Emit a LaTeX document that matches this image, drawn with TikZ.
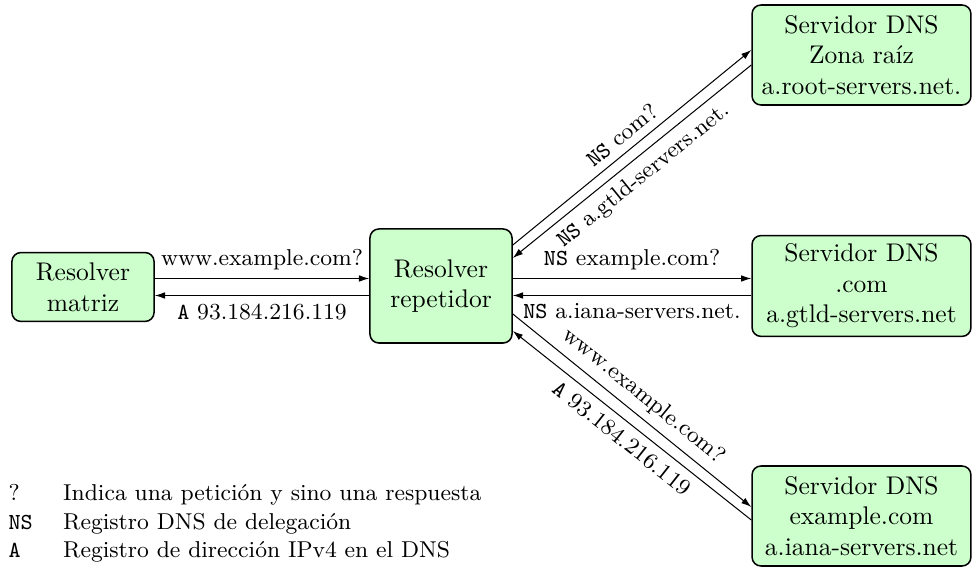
\documentclass[tikz,border=0pt]{standalone}
\usepackage{fontspec}
\usetikzlibrary{calc,arrows.meta}
\begin{document}
\begin{tikzpicture}[x=0.392pt,y=-0.392pt,
  box/.style={draw=black, semithick, fill=green!20, rounded corners=3.5pt, align=center, inner sep=3.2pt},
  server/.style={box, minimum width=85.8pt, minimum height=39.2pt},
  arr/.style={-{Latex[length=4pt,width=2.6pt]}, thin},
  lbl/.style={font=\small, inner sep=3pt}]
\useasboundingbox (0,0) rectangle (972,571);
\node[box, minimum width=55.7pt, minimum height=27pt] (m) at (83,287) {Resolver\\matriz};
\node[box, minimum width=55.7pt, minimum height=44.7pt] (r) at (441,286) {Resolver\\repetidor};
\node[server] (root) at (861.5,55) {Servidor DNS\\Zona raíz\\a.root-servers.net.};
\node[server] (com) at (861.5,286) {Servidor DNS\\.com\\a.gtld-servers.net};
\node[server] (ex) at (861.5,516) {Servidor DNS\\example.com\\a.iana-servers.net};
% matriz <-> repetidor
\draw[arr] ($(m.east)+(0,-8.5)$) -- node[lbl, above] (l1) {www.example.com?} ($(r.west)+(0,-7.5)$);
\draw[arr] ($(r.west)+(0,9.5)$) -- node[lbl, below] (l2) {\texttt{A} 93.184.216.119} ($(m.east)+(0,8.5)$);
% repetidor <-> com
\draw[arr] ($(r.east)+(0,-7.5)$) -- node[lbl, above] (l3) {\texttt{NS} example.com?} ($(com.west)+(0,-7.5)$);
\draw[arr] ($(com.west)+(0,9.5)$) -- node[lbl, below] (l4) {\texttt{NS} a.iana-servers.net.} ($(r.east)+(0,9.5)$);
% repetidor <-> root
\draw[arr] ($(r.east)+(0,-41)$) -- node[lbl, above, sloped] (l5) {\texttt{NS} com?} ($(root.west)+(0,-5)$);
\draw[arr] ($(root.west)+(0,10)$) -- node[lbl, below, sloped] (l6) {\texttt{NS} a.gtld-servers.net.} ($(r.east)+(0,-28)$);
% repetidor <-> example
\draw[arr] ($(r.east)+(0,28)$) -- node[lbl, above, sloped] (l7) {www.example.com?} ($(ex.west)+(0,-9)$);
\draw[arr] ($(ex.west)+(0,4)$) -- node[lbl, below, sloped] (l8) {\texttt{A} 93.184.216.119} ($(r.east)+(0,45)$);
% legend
\node[anchor=south west, inner sep=0pt, font=\small] (legend) at (8,566) {%
\begin{tabular}{@{}ll@{}}
? & Indica una petición y sino una respuesta\\
\texttt{NS} & Registro DNS de delegación\\
\texttt{A} & Registro de dirección IPv4 en el DNS
\end{tabular}};
\end{tikzpicture}
\end{document}
